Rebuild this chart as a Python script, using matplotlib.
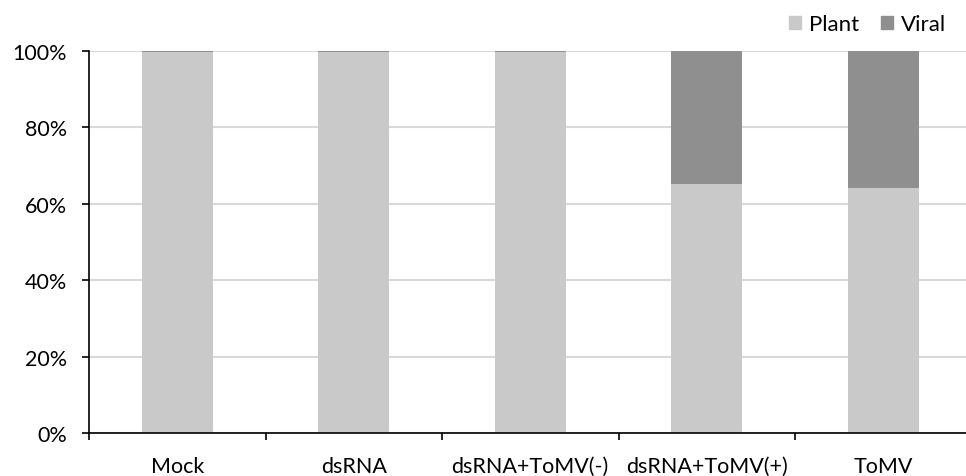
import matplotlib
matplotlib.use("Agg")
import matplotlib.pyplot as plt
import numpy as np
from matplotlib.patches import Patch

plt.rcParams['font.family'] = ['Lato', 'DejaVu Sans']

categories = ["Mock", "dsRNA", "dsRNA+ToMV(-)", "dsRNA+ToMV(+)", "ToMV"]
plant = [99.8, 99.7, 99.7, 65.3, 64.2]
viral = [0.2, 0.3, 0.3, 34.7, 35.8]
yticks = [0, 20, 40, 60, 80, 100]
ytick_labels = ["0%", "20%", "40%", "60%", "80%", "100%"]

plant_color = "#c9c9c9"
viral_color = "#8f8f8f"

fig = plt.figure(figsize=(9.66, 4.77), dpi=100)
ax = fig.add_axes([89/966, (477-434.3)/477, 882.5/966, (434.3-52)/477])

x = np.arange(len(categories))
ax.bar(x, plant, width=0.4, color=plant_color, zorder=2)
ax.bar(x, viral, width=0.4, bottom=plant, color=viral_color, zorder=2)

ax.set_xlim(-0.5, len(categories) - 0.5)
ax.set_ylim(0, 100)
ax.set_yticks(yticks)
ax.set_yticklabels(ytick_labels)
ax.yaxis.grid(True, color="#d9d9d9", linewidth=1.5, zorder=0)
ax.set_axisbelow(True)

ax.set_xticks(np.arange(len(categories) + 1) - 0.5)
ax.set_xticklabels([])
ax.set_xticks(x, minor=True)
ax.set_xticklabels(categories, minor=True)
ax.tick_params(axis='x', which='major', direction='out', length=5, width=1.2, color='black')
ax.tick_params(axis='x', which='minor', length=0, pad=16.5, labelsize=15.5)
ax.tick_params(axis='y', direction='out', length=5, width=1.2, pad=11, labelsize=15.5)

for s in ['top', 'right']:
    ax.spines[s].set_visible(False)
for s in ['left', 'bottom']:
    ax.spines[s].set_linewidth(1.2)
    ax.spines[s].set_color('black')

handles = [Patch(color=plant_color, label="Plant"), Patch(color=viral_color, label="Viral")]
fig.legend(handles=handles, loc='upper right', bbox_to_anchor=(1.0, 1.01), ncol=2,
           frameon=False, fontsize=16, handlelength=0.55, handleheight=0.55,
           handletextpad=0.35, columnspacing=1.0)

fig.savefig("out.png", dpi=100)
